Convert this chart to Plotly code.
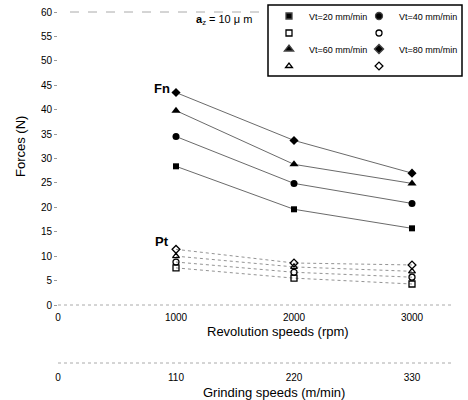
import plotly.graph_objects as go

rev_speeds = [1000, 2000, 3000]
grind_speeds = [110, 220, 330]
vt_labels = ["Vt=20 mm/min", "Vt=40 mm/min", "Vt=60 mm/min", "Vt=80 mm/min"]
fn_vt20 = [28.4, 19.6, 15.7]
fn_vt40 = [34.5, 24.9, 20.8]
fn_vt60 = [39.8, 28.8, 24.9]
fn_vt80 = [43.5, 33.7, 27.0]
pt_vt20 = [7.6, 5.5, 4.3]
pt_vt40 = [8.8, 6.7, 5.7]
pt_vt60 = [10.0, 7.8, 6.9]
pt_vt80 = [11.4, 8.6, 8.2]
y_ticks = list(range(0, 61, 5))
x_ticks = [0, 1000, 2000, 3000]
x2_ticks = [0, 110, 220, 330]

FONT = "Liberation Sans, Arial, sans-serif"
fn_series = [fn_vt20, fn_vt40, fn_vt60, fn_vt80]
pt_series = [pt_vt20, pt_vt40, pt_vt60, pt_vt80]
fill_sym = ["square", "circle", "triangle-up", "diamond"]
open_sym = ["square-open", "circle-open", "triangle-up-open", "diamond-open"]
sizes = [6, 7, 8, 7]

fig = go.Figure()
for i in range(4):
    fig.add_trace(go.Scatter(
        x=rev_speeds, y=fn_series[i], mode="lines+markers", showlegend=False,
        line=dict(color="#444", width=0.8),
        marker=dict(symbol=fill_sym[i], size=sizes[i], color="black")))
    fig.add_trace(go.Scatter(
        x=rev_speeds, y=pt_series[i], mode="lines+markers", showlegend=False,
        line=dict(color="#777", width=0.8, dash="dot"),
        marker=dict(symbol=open_sym[i], size=6, color="black",
                    line=dict(width=1.3))))

# legend entries: 4 rows x 2 columns
row_legends = ["legend", "legend2", "legend3", "legend4"]
for r, (a, b) in enumerate([(0, 1), (0, 1), (2, 3), (2, 3)]):
    for col, i in enumerate((a, b)):
        filled = r in (0, 2)
        fig.add_trace(go.Scatter(
            x=[None], y=[None], mode="markers",
            name=vt_labels[i] if filled else " ", legend=row_legends[r],
            legendwidth=45 if col == 0 else 75,
            marker=dict(symbol=fill_sym[i] if filled else open_sym[i],
                        size=sizes[i] if filled else 6, color="black",
                        line=dict(width=1.3))))

# invisible trace for grinding-speed axis
fig.add_trace(go.Scatter(x=grind_speeds, y=[None] * 3, xaxis="x2",
                         mode="markers", showlegend=False, hoverinfo="skip"))

L, R, T, B = 58, 5, 12, 16
H = 400 - T - B
W = 468 - L - R
XMAX = W / 0.118
def px(xp):
    return (xp - L) / W
def py(yp):
    return (400 - B - yp) / H

ybot = py(305)
legend_rows_y = [16, 33, 49, 66]
legend_cfg = {}
for k, name in enumerate(row_legends):
    legend_cfg[name] = dict(
        orientation="h", x=px(269), y=py(legend_rows_y[k]), xanchor="left",
        yanchor="middle", bgcolor="rgba(0,0,0,0)",
        font=dict(size=9, family=FONT), itemwidth=30)

fig.update_layout(
    width=468, height=400,
    margin=dict(l=L, r=R, t=T, b=B, autoexpand=False),
    plot_bgcolor="white", paper_bgcolor="white",
    font=dict(family=FONT, size=10, color="black"),
    xaxis=dict(range=[0, XMAX], tickvals=x_ticks, ticks="outside", ticklen=3,
               tickcolor="rgba(0,0,0,0)", showgrid=False,
               zeroline=False, showline=False, anchor="y",
               tickfont=dict(size=10, family=FONT), automargin=False),
    xaxis2=dict(range=[0, XMAX * 0.11], tickvals=x2_ticks, overlaying="x",
                anchor="free", position=py(363), side="bottom", ticks="outside",
                ticklen=5, tickcolor="rgba(0,0,0,0)",
                showgrid=False, zeroline=False, showline=False,
                tickfont=dict(size=10, family=FONT), automargin=False),
    yaxis=dict(range=[0, 60], domain=[ybot, 1], tickvals=y_ticks,
               ticks="outside", ticklen=3, tickcolor="#999", showgrid=False,
               zeroline=False, showline=False,
               tickfont=dict(size=10, family=FONT), automargin=False),
    shapes=[
        dict(type="line", xref="paper", yref="paper", x0=0, x1=px(453),
             y0=ybot, y1=ybot, line=dict(color="#aaa", width=1, dash="dot")),
        dict(type="line", xref="paper", yref="paper", x0=0, x1=px(453),
             y0=py(363), y1=py(363), line=dict(color="#aaa", width=1, dash="dot")),
        dict(type="line", xref="paper", yref="paper", x0=px(70), x1=px(268),
             y0=1, y1=1, line=dict(color="#aaa", width=1, dash="dash")),
        dict(type="rect", xref="paper", yref="paper", x0=px(268), x1=px(462),
             y0=py(76), y1=py(5), line=dict(color="black", width=1.5)),
    ],
    annotations=[
        dict(text="Forces (N)", x=px(20), y=py(147), xref="paper", yref="paper",
             xanchor="center", yanchor="middle",
             textangle=-90, showarrow=False, font=dict(size=13, family=FONT)),
        dict(text="Revolution speeds (rpm)", x=px(278), y=py(331), xref="paper",
             yref="paper", xanchor="center", yanchor="middle",
             showarrow=False, font=dict(size=13, family=FONT)),
        dict(text="Grinding speeds (m/min)", x=px(274), y=py(392), xref="paper",
             yref="paper", xanchor="center", yanchor="middle",
             showarrow=False, font=dict(size=13, family=FONT)),
        dict(text="<b>Fn</b>", x=px(162), y=py(88), xref="paper", yref="paper",
             xanchor="center", yanchor="middle",
             showarrow=False, font=dict(size=13, family=FONT)),
        dict(text="<b>Pt</b>", x=px(162), y=py(241), xref="paper", yref="paper",
             xanchor="center", yanchor="middle",
             showarrow=False, font=dict(size=13, family=FONT)),
        dict(text="<b>a</b><sub>z</sub> = 10 \u03bc m", x=px(224), y=py(20),
             xref="paper", yref="paper", xanchor="center", yanchor="middle",
             showarrow=False, font=dict(size=11, family=FONT)),
    ],
    **legend_cfg,
)
fig.write_html("out.html")
